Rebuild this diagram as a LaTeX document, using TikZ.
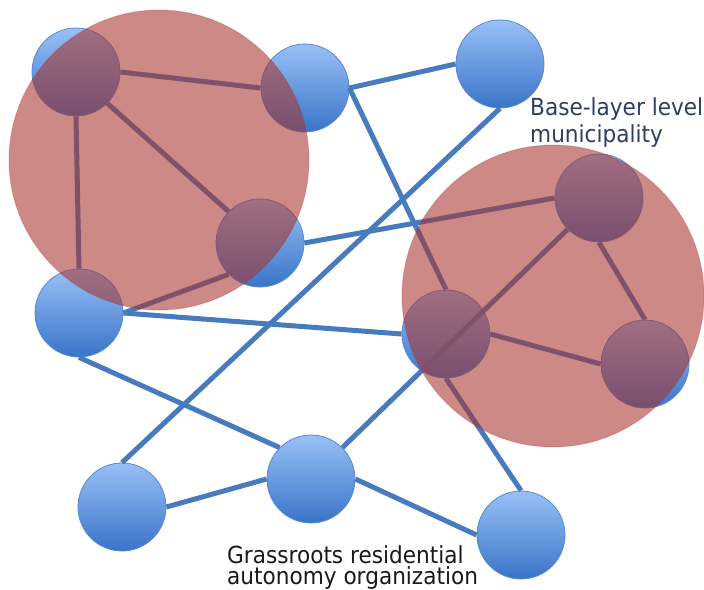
\documentclass[tikz,border=0pt]{standalone}
\usepackage{fontspec}
\setmainfont{DejaVu Sans}
\newfontfamily\labelfont[FakeStretch=0.92]{DejaVu Sans}
\definecolor{nodetop}{RGB}{152,192,246}
\definecolor{nodebot}{RGB}{58,116,200}
\definecolor{nodeedge}{RGB}{88,138,208}
\definecolor{wireblue}{RGB}{72,122,190}
\definecolor{zonered}{RGB}{168,52,46}
\definecolor{labelblue}{RGB}{45,62,98}
\definecolor{labelgrey}{RGB}{25,25,25}
\tikzset{
  hub/.style={circle, inner sep=0pt, minimum size=88pt,
    top color=nodetop, bottom color=nodebot, draw=nodeedge, line width=0.8pt},
  wire/.style={draw=wireblue, line width=5pt},
  zone/.style={fill=zonered, fill opacity=0.58, draw=zonered, draw opacity=0.25, line width=1pt},
  caption/.style={inner sep=0pt, anchor=north west, align=left, font=\labelfont}
}
\begin{document}
\begin{tikzpicture}[x=1pt,y=-1pt]
\useasboundingbox (0,0) rectangle (704,589);

% municipalities / organizations
\node[hub] (A) at (76,72) {};
\node[hub] (B) at (305,88) {};
\node[hub] (C) at (500,64) {};
\node[hub] (D) at (260,243) {};
\node[hub] (E) at (79,313) {};
\node[hub] (F) at (446,334) {};
\node[hub] (G) at (599,198) {};
\node[hub] (H) at (645,364) {};
\node[hub] (I) at (122,507) {};
\node[hub] (J) at (311,479) {};
\node[hub] (K) at (521,535) {};

% links between them
\draw[wire] (A.east) -- (B.west);
\draw[wire] (A.south east) -- (D.north west);
\draw[wire] (A.south) -- (E.north);
\draw[wire] (D.south west) -- (E.east);
\draw[wire] (B.east) -- (C.west);
\draw[wire] (B.east) -- (F.north);
\draw[wire] (C.south) -- (I.north);
\draw[wire] (D.east) -- (G.west);
\draw[wire] (E.east) -- (F.west);
\draw[wire] (E.south) -- (J.north west);
\draw[wire] (J.north east) -- (G.south west);
\draw[wire] (F.east) -- (H.west);
\draw[wire] (G.south) -- (H.north);
\draw[wire] (F.south) -- (K.north);
\draw[wire] (I.east) -- (J.west);
\draw[wire] (J.east) -- (K.west);

% base-layer groupings
\path[zone] (159,160) circle (150pt);
\path[zone] (553,296) circle (151pt);

% captions
\node[caption, text=labelblue, font=\labelfont\fontsize{23.5}{27}\selectfont]
  (muni) at (530,97) {Base-layer level\\municipality};
\node[caption, text=labelgrey, font=\labelfont\fontsize{23.5}{21.5}\selectfont]
  (grass) at (227,545) {Grassroots residential\\autonomy organization};
\end{tikzpicture}
\end{document}
